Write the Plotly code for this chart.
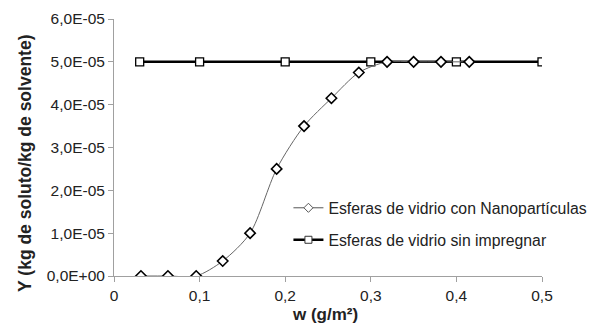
import plotly.graph_objects as go

w_nano = [0.0315, 0.063, 0.096, 0.127, 0.159, 0.190, 0.222, 0.254, 0.286, 0.319, 0.350, 0.382, 0.415]
y_nano = [0.0, 0.0, 0.0, 3.5e-6, 1.0e-5, 2.5e-5, 3.5e-5, 4.15e-5, 4.75e-5, 5.0e-5, 5.0e-5, 5.0e-5, 5.0e-5]
w_sin = [0.03, 0.1, 0.2, 0.3, 0.4, 0.5]
y_sin = [5.0e-5, 5.0e-5, 5.0e-5, 5.0e-5, 5.0e-5, 5.0e-5]
x_ticks = [0, 0.1, 0.2, 0.3, 0.4, 0.5]
x_ticktext = ["0", "0,1", "0,2", "0,3", "0,4", "0,5"]
y_ticks = [0, 1e-5, 2e-5, 3e-5, 4e-5, 5e-5, 6e-5]
y_ticktext = ["0,0E+00", "1,0E-05", "2,0E-05", "3,0E-05", "4,0E-05", "5,0E-05", "6,0E-05"]
name_nano = "Esferas de vidrio con Nanopartículas"
name_sin = "Esferas de vidrio sin impregnar"
x_title = "<b>w (g/m²)</b>"
y_title = "<b>Y (kg de soluto/kg de solvente)</b>"

FAM = "Arial, Liberation Sans, sans-serif"

fig = go.Figure()
fig.add_trace(go.Scatter(
    x=w_sin, y=y_sin, mode="lines+markers", name=name_sin, showlegend=False,
    line=dict(color="black", width=2.5),
    marker=dict(symbol="square", size=8, color="white", line=dict(color="black", width=1.3)),
))
fig.add_trace(go.Scatter(
    x=w_nano, y=y_nano, mode="lines+markers", name=name_nano, showlegend=False,
    line=dict(color="#666666", width=1, shape="spline", smoothing=0.8),
    marker=dict(symbol="diamond", size=8, color="white", line=dict(color="black", width=1.6)),
))
# legend entries
fig.add_trace(go.Scatter(
    x=[None], y=[None], mode="lines+markers", name=name_nano, legend="legend",
    line=dict(color="#555555", width=1),
    marker=dict(symbol="diamond", size=7, color="white", line=dict(color="#555555", width=1)),
))
fig.add_trace(go.Scatter(
    x=[None], y=[None], mode="lines+markers", name=name_sin, legend="legend2",
    line=dict(color="black", width=2.5),
    marker=dict(symbol="square", size=7, color="white", line=dict(color="#333333", width=1)),
))

fig.update_layout(
    width=591, height=315,
    margin=dict(l=106, r=57, t=11, b=47, autoexpand=False),
    paper_bgcolor="white", plot_bgcolor="white",
    font=dict(family=FAM, size=15.5, color="#222222"),
    showlegend=True,
    legend=dict(x=0.4745, y=0.365, xref="container", yref="container",
                xanchor="left", yanchor="middle", bgcolor="rgba(0,0,0,0)",
                font=dict(family=FAM, size=15.8, color="#222222")),
    legend2=dict(x=0.4745, y=0.2635, xref="container", yref="container",
                 xanchor="left", yanchor="middle", bgcolor="rgba(0,0,0,0)",
                 font=dict(family=FAM, size=15.8, color="#222222")),
    xaxis=dict(range=[0, 0.5], tickvals=x_ticks, ticktext=x_ticktext, showgrid=False,
               zeroline=False, showline=True, linecolor="#a0a0a0", linewidth=1,
               ticks="outside", ticklen=5, tickcolor="#a0a0a0", automargin=False),
    yaxis=dict(range=[0, 6e-5], tickvals=y_ticks, ticktext=y_ticktext, showgrid=False,
               zeroline=False, showline=True, linecolor="#a0a0a0", linewidth=1,
               ticks="outside", ticklen=5, tickcolor="#a0a0a0", automargin=False),
    annotations=[
        dict(text=x_title, xref="paper", yref="paper", x=0.493, y=-0.148,
             xanchor="center", yanchor="middle", showarrow=False,
             font=dict(family=FAM, size=17, color="#222222")),
        dict(text=y_title, xref="paper", yref="paper", x=-0.208, y=0.44,
             xanchor="center", yanchor="middle", showarrow=False, textangle=-90,
             font=dict(family=FAM, size=17.5, color="#222222")),
    ],
)
fig.write_html("out.html")
